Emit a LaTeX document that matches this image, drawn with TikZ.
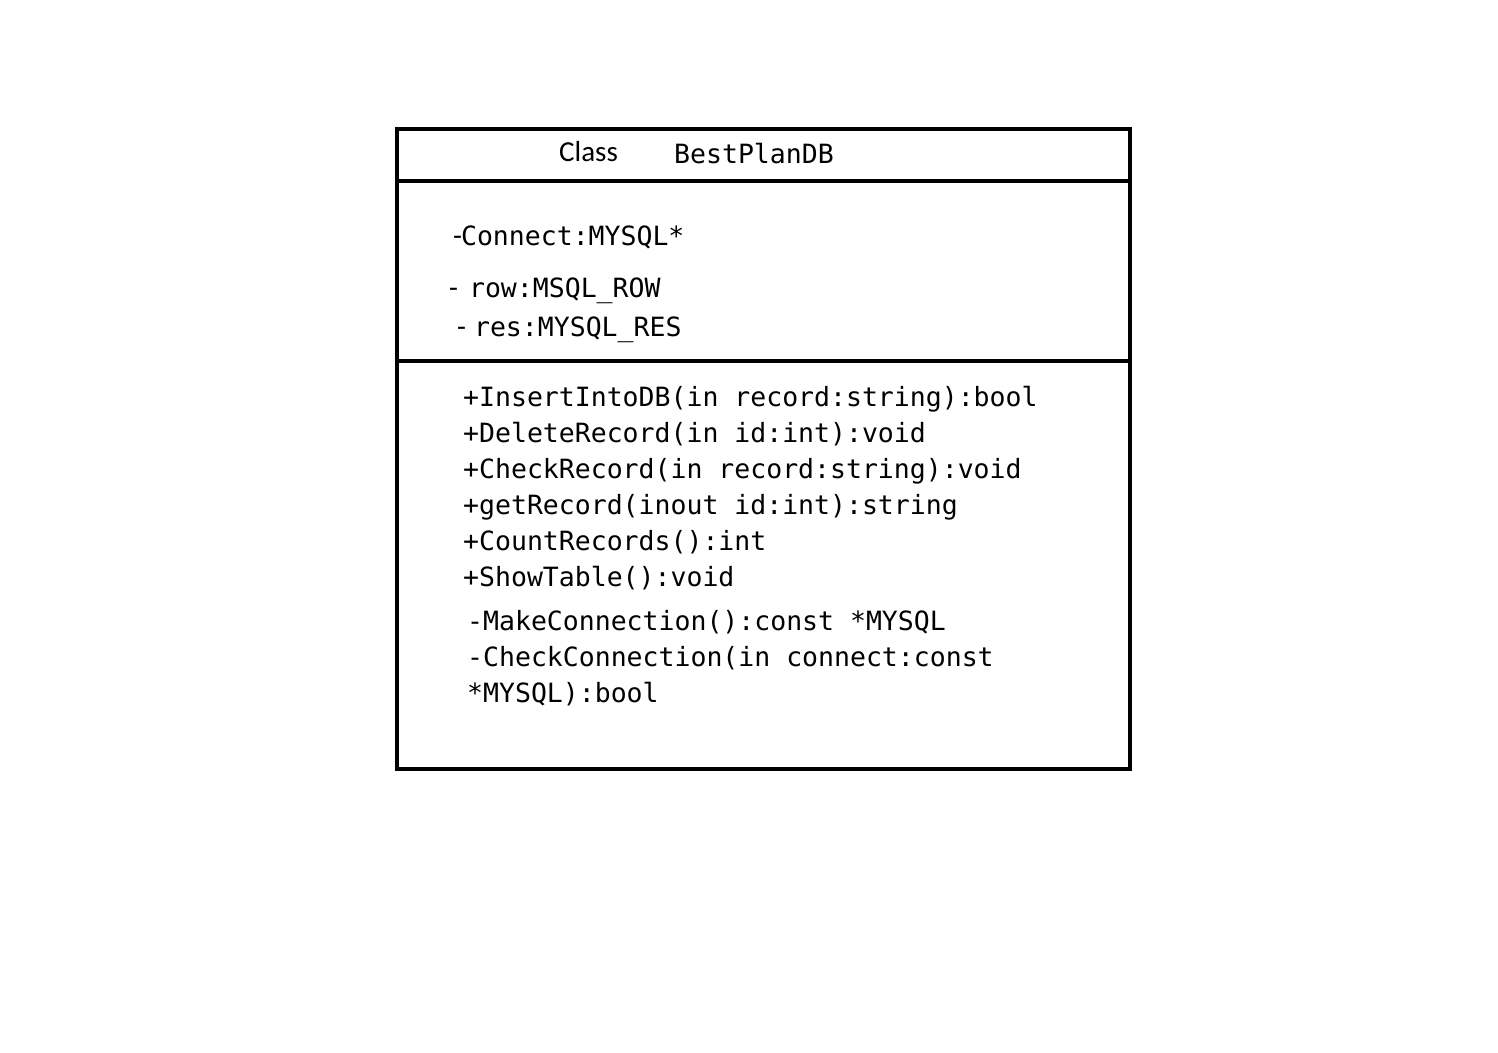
\documentclass[tikz,border=0pt]{standalone}
\usepackage{fontspec}
\newfontfamily\monof{DejaVu Sans Mono}
\newfontfamily\calf{Carlito}
\newcommand{\cdash}{{\calf\fontsize{29}{30}\selectfont -}}
\begin{document}
\begin{tikzpicture}[x=1pt,y=-1pt,
  boxline/.style={line width=4pt},
  mono/.style={font=\monof\fontsize{26.5}{30}\selectfont, anchor=base west, inner sep=0pt},
  calt/.style={font=\calf\fontsize{29}{30}\selectfont, anchor=base west, inner sep=0pt}]
\useasboundingbox (0,0) rectangle (1498,1052);
\draw[boxline] (397,129) rectangle (1130,769);
\draw[boxline] (397,181) -- (1130,181);
\draw[boxline] (397,361) -- (1130,361);
\node[calt] (cls) at (559,161) {Class};
\node[mono] (name) at (674,163) {BestPlanDB};
\node[mono] (a1) at (453,245) {\cdash\hspace{-1pt}Connect:MYSQL*};
\node[mono] (a2) at (449,297) {\cdash\hspace{11pt}row:MSQL\_ROW};
\node[mono] (a3) at (457,336) {\cdash\hspace{8pt}res:MYSQL\_RES};
\node[mono] (m1) at (463,406) {+InsertIntoDB(in record:string):bool};
\node[mono] (m2) at (463,442) {+DeleteRecord(in id:int):void};
\node[mono] (m3) at (463,478) {+CheckRecord(in record:string):void};
\node[mono] (m4) at (463,514) {+getRecord(inout id:int):string};
\node[mono] (m5) at (463,550) {+CountRecords():int};
\node[mono] (m6) at (463,586) {+ShowTable():void};
\node[mono] (m7) at (467,630) {-MakeConnection():const *MYSQL};
\node[mono] (m8) at (467,666) {-CheckConnection(in connect:const};
\node[mono] (m9) at (467,702) {*MYSQL):bool};
\end{tikzpicture}
\end{document}
